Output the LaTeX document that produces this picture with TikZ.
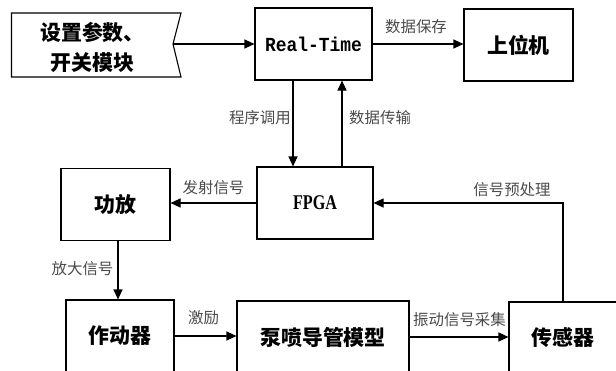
\documentclass[tikz,border=0pt]{standalone}
\usepackage{fontspec}
\setmainfont{Liberation Serif}
\newfontfamily\cjk{Noto Sans CJK SC}
\newfontfamily\monof{Liberation Mono}[FakeStretch=0.9]
\newfontfamily\fpgafont{Liberation Serif}[FakeStretch=0.77]
\usetikzlibrary{arrows.meta,calc}
\definecolor{labc}{HTML}{4A4A4A}
\begin{document}
\begin{tikzpicture}[x=1bp,y=-1bp,
  box/.style={draw, line width=1.1bp, inner sep=0pt, font=\cjk\bfseries\fontsize{21}{25}\selectfont},
  lab/.style={font=\cjk\fontsize{15.5}{18}\selectfont, text=labc, inner sep=0pt},
  arr/.style={-{Triangle[length=10bp,width=9bp]}, line width=1.1bp}]
\useasboundingbox (0,0) rectangle (616,370);
\clip (0,0) rectangle (616,370);
% boxes
\node[box, minimum width=117bp, minimum height=72bp] (rt) at (313.5,44) {\monof\bfseries\fontsize{20}{22}\selectfont Real-Time};
\node[box, minimum width=109bp, minimum height=72bp] (pc) at (518.5,45) {上位机};
\node[box, minimum width=116bp, minimum height=72bp] (fpga) at (315,203) {\fpgafont\bfseries\fontsize{21}{23}\selectfont FPGA};
\node[box, minimum width=109bp, minimum height=72bp] (amp) at (115.5,204.5) {功放};
\node[box, minimum width=108bp, minimum height=72bp] (act) at (120,336) {作动器};
\node[box, minimum width=172bp, minimum height=72bp] (pump) at (323,337) {泵喷导管模型};
\node[box, minimum width=108bp, minimum height=72bp] (sens) at (563,338) {传感器};
% settings flag shape
\draw[line width=1.1bp] (11.5,13) -- (181,13) -- (173,44) coordinate (notch) -- (181,77) -- (11.5,77) -- cycle;
\node[font=\cjk\bfseries\fontsize{21}{30}\selectfont, align=center, inner sep=0pt] (set) at (92.5,47) {设置参数、\\开关模块};
% connectors
\draw[arr] (notch) -- (notch -| rt.west);
\draw[arr] (rt.east) -- (rt.east -| pc.west);
\draw[arr] ([xshift=-20.5bp]rt.south) -- ([xshift=-20.5bp]rt.south |- fpga.north);
\draw[arr] ([xshift=28.5bp]rt.south |- fpga.north) -- ([xshift=28.5bp]rt.south);
\draw[arr] (fpga.west) -- (fpga.west -| amp.east);
\draw[arr] ([xshift=2.5bp]amp.south) -- ([xshift=2.5bp]amp.south |- act.north);
\draw[arr] (act.east) -- (act.east -| pump.west);
\draw[arr] (pump.east) -- (pump.east -| sens.west);
\draw[arr] (sens.north) -- (sens.north |- fpga.east) -- (fpga.east);
% labels
\node[lab] (l1) at (416,27) {数据保存};
\node[lab, anchor=east] (l2) at (291,118) {程序调用};
\node[lab, anchor=west] (l3) at (349,118) {数据传输};
\node[lab] (l4) at (213.5,188) {发射信号};
\node[lab] (l5) at (512,190) {信号预处理};
\node[lab] (l6) at (82.5,269) {放大信号};
\node[lab] (l7) at (203.5,318) {激励};
\node[lab] (l8) at (459.5,320) {振动信号采集};
\end{tikzpicture}
\end{document}
